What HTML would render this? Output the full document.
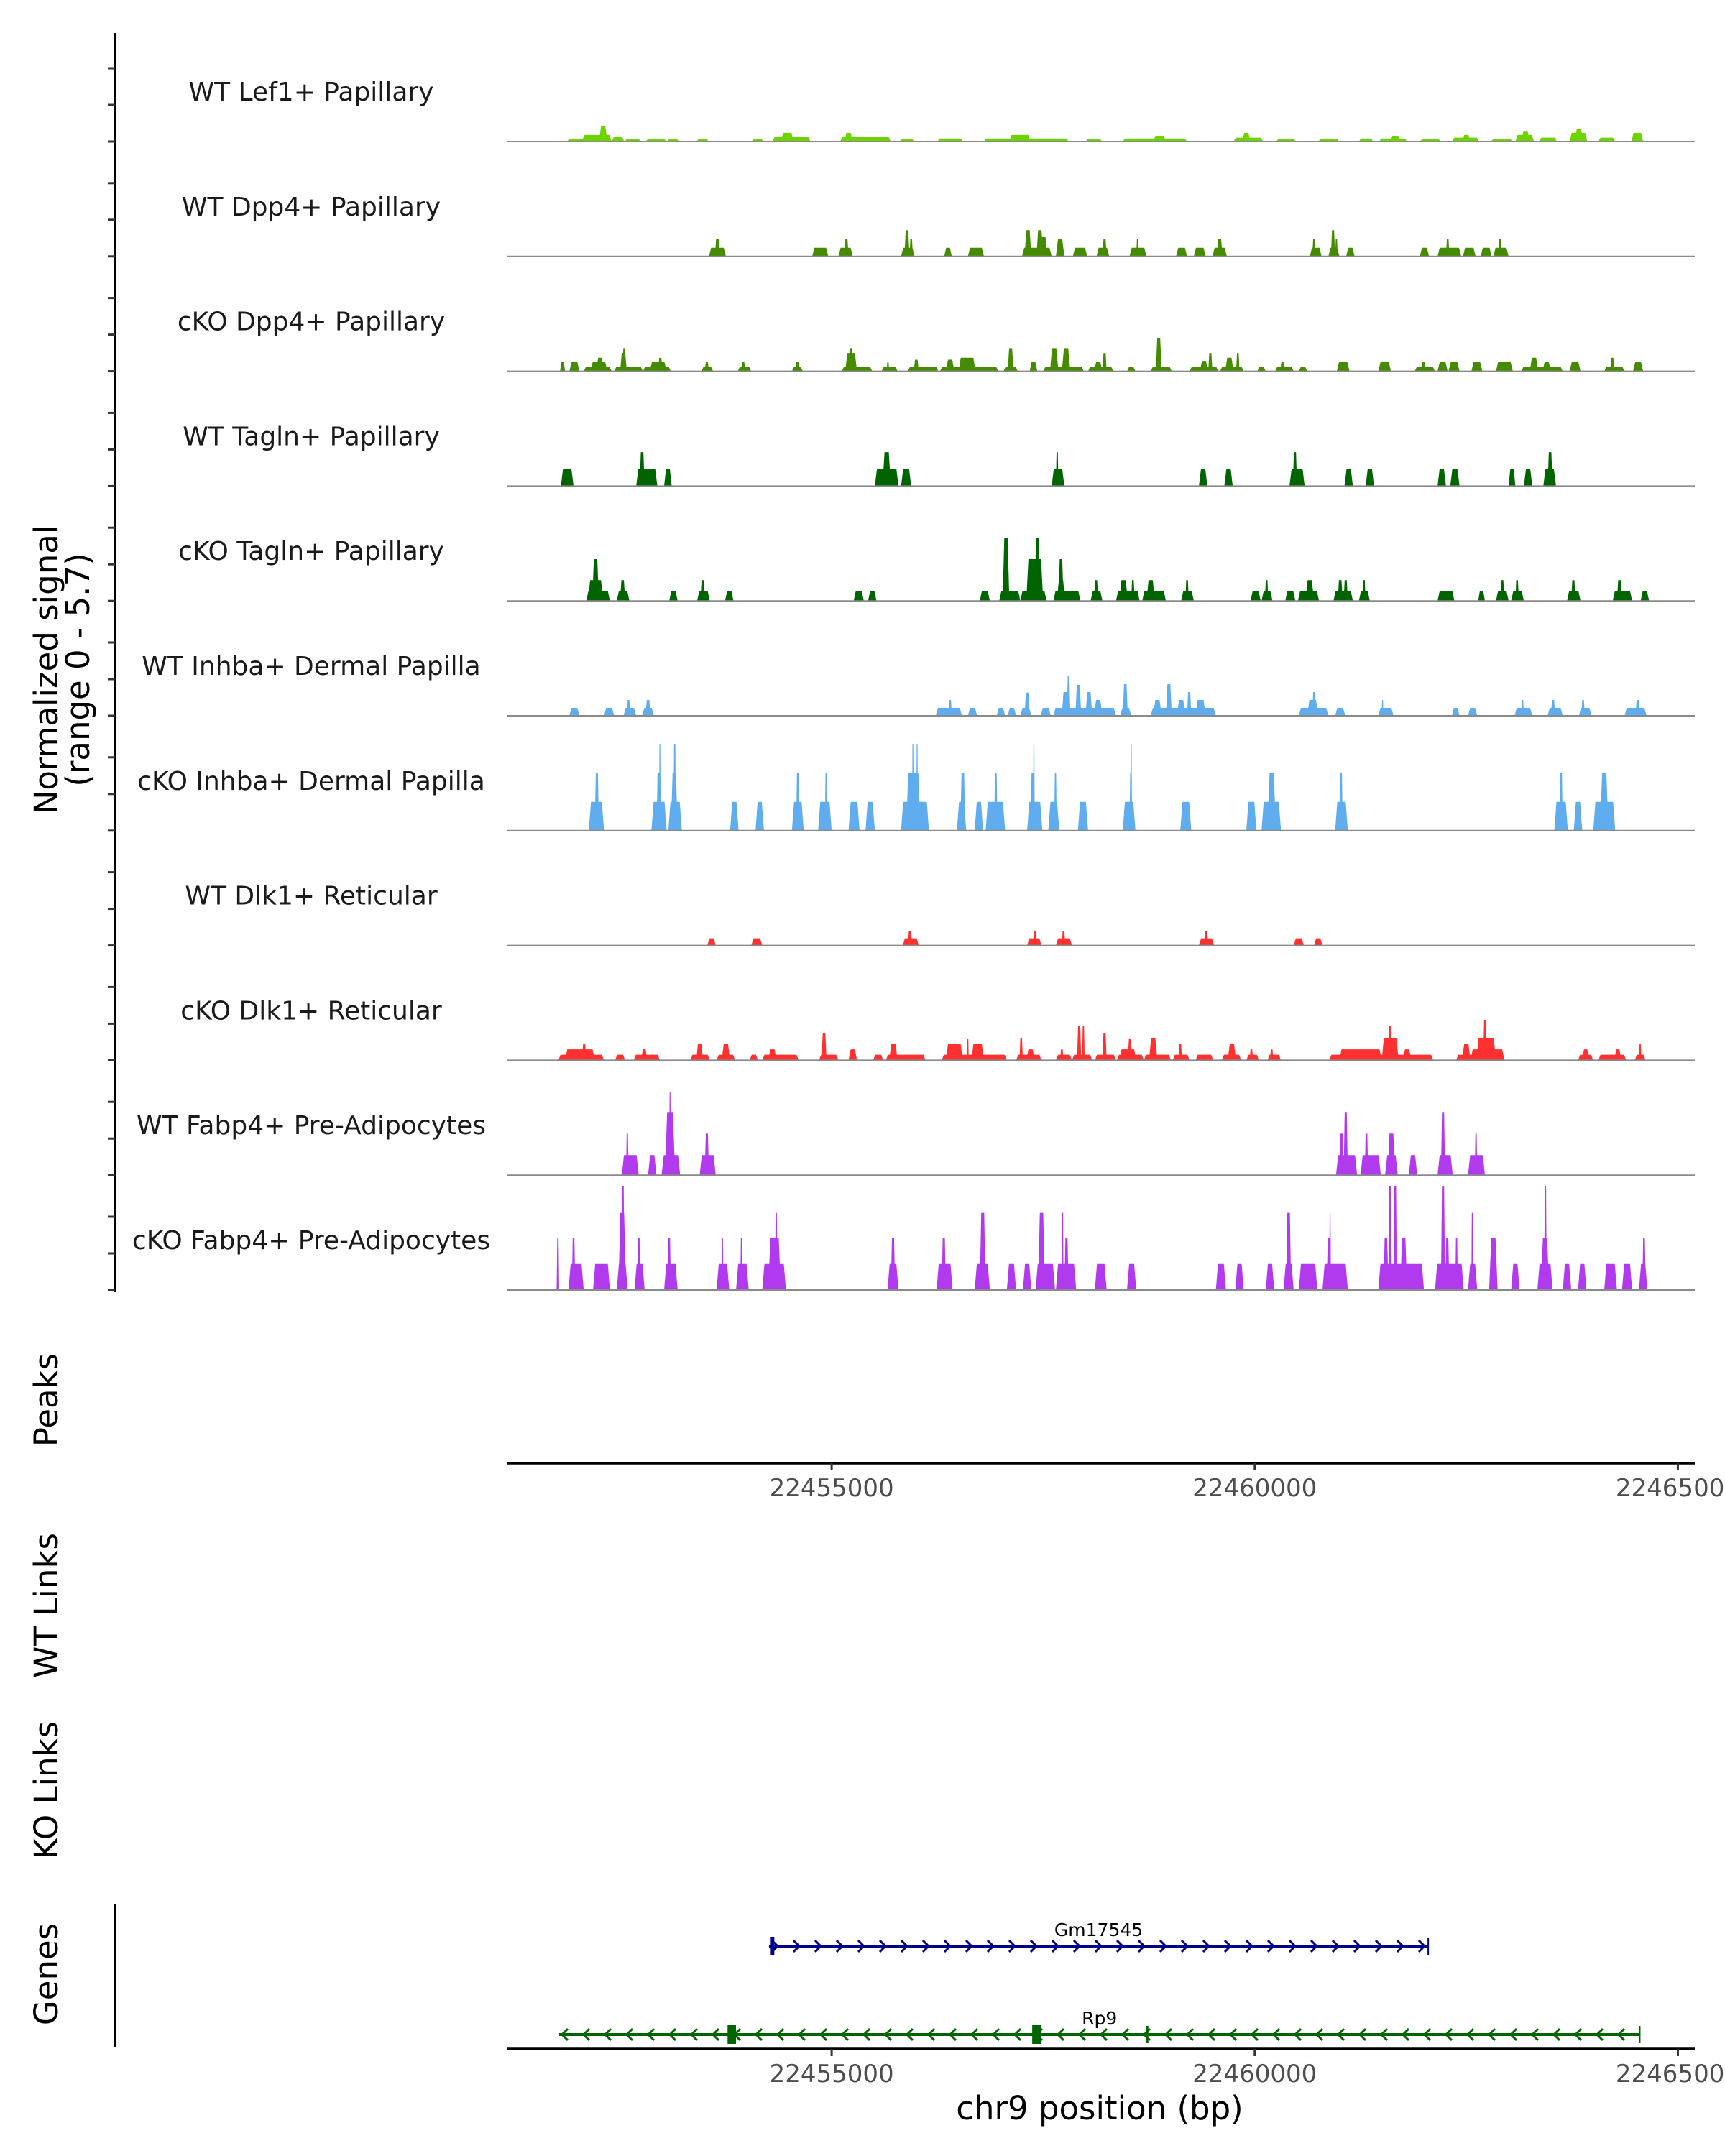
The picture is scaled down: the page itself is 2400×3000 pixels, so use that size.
<!DOCTYPE html>
<html><head><meta charset="utf-8"><style>
html,body{margin:0;padding:0;background:#fff;}
svg{display:block;font-family:"DejaVu Sans","Liberation Sans",sans-serif;}
</style></head><body>
<svg id="chart" width="2400" height="3000" viewBox="0 0 2400 3000" xmlns="http://www.w3.org/2000/svg">
<g id="tracks"></g>
<g id="axes"></g>
<g id="genes"></g>
<text transform="translate(80,932) rotate(-90)" text-anchor="middle" font-size="45" fill="#000">Normalized signal</text>
<text transform="translate(124,932) rotate(-90)" text-anchor="middle" font-size="45" fill="#000">(range 0 - 5.7)</text>
<text transform="translate(80,1948) rotate(-90)" text-anchor="middle" font-size="45" fill="#000">Peaks</text>
<text transform="translate(80,2234) rotate(-90)" text-anchor="middle" font-size="45" fill="#000">WT Links</text>
<text transform="translate(80,2491) rotate(-90)" text-anchor="middle" font-size="45" fill="#000">KO Links</text>
<text transform="translate(80,2747) rotate(-90)" text-anchor="middle" font-size="45" fill="#000">Genes</text>
<text x="1530" y="2949" text-anchor="middle" font-size="45" fill="#000">chr9 position (bp)</text>
</svg>
<script>
const chromStart = 22450000;
const xTicksKb = [5, 10, 15];
const xTickLabels = ["22455000", "22460000", "22465000"];
const trackNames = ["WT Lef1+ Papillary","WT Dpp4+ Papillary","cKO Dpp4+ Papillary","WT Tagln+ Papillary","cKO Tagln+ Papillary","WT Inhba+ Dermal Papilla","cKO Inhba+ Dermal Papilla","WT Dlk1+ Reticular","cKO Dlk1+ Reticular","WT Fabp4+ Pre-Adipocytes","cKO Fabp4+ Pre-Adipocytes"];
const trackColors = ["#6dd400","#458b00","#458b00","#006400","#006400","#5fadee","#5fadee","#ff3030","#ff3030","#b23aee","#b23aee"];
const lef1WT = [[1.87,2.15,0.11],[2.05,2.40,0.34],[2.25,2.35,0.8],[2.40,2.55,0.23],[2.55,2.75,0.11],[2.80,3.05,0.11],[3.05,3.20,0.11],[3.40,3.55,0.11],[4.05,4.20,0.11],[4.30,4.75,0.23],[4.40,4.55,0.45],[5.10,5.70,0.23],[5.15,5.25,0.45],[5.80,5.98,0.11],[6.25,6.55,0.16],[6.80,7.80,0.16],[7.10,7.35,0.34],[8.00,8.20,0.11],[8.44,9.20,0.16],[8.80,8.95,0.3],[9.75,10.10,0.2],[9.85,9.95,0.45],[10.25,10.49,0.11],[10.75,11.00,0.11],[11.23,11.40,0.16],[11.47,11.80,0.16],[11.60,11.72,0.3],[11.95,12.20,0.11],[12.33,12.65,0.2],[12.45,12.55,0.34],[12.79,13.05,0.11],[13.08,13.30,0.34],[13.15,13.25,0.55],[13.36,13.57,0.2],[13.72,13.93,0.45],[13.78,13.88,0.65],[14.06,14.26,0.2],[14.45,14.59,0.45]];
const dpp4WT = [[3.55,3.75,0.45],[3.62,3.68,0.9],[4.77,4.96,0.45],[5.08,5.25,0.45],[5.15,5.20,0.9],[5.82,5.98,0.45],[5.86,5.92,1.36],[5.92,5.96,0.9],[6.33,6.42,0.45],[6.61,6.80,0.45],[7.25,7.60,0.45],[7.28,7.36,1.36],[7.42,7.50,1.36],[7.46,7.55,1.0],[7.65,7.75,0.9],[7.85,8.02,0.45],[8.13,8.28,0.45],[8.20,8.25,0.9],[8.52,8.72,0.45],[8.60,8.63,0.9],[9.07,9.20,0.45],[9.28,9.42,0.45],[9.50,9.67,0.45],[9.55,9.62,0.9],[10.65,10.79,0.45],[10.68,10.72,0.9],[10.87,11.00,0.45],[10.90,10.95,1.36],[10.95,10.98,0.9],[11.08,11.18,0.45],[11.95,12.06,0.45],[12.16,12.44,0.45],[12.26,12.30,0.9],[12.46,12.61,0.45],[12.67,12.80,0.45],[12.82,13.00,0.45],[12.88,12.92,0.9]];
const dpp4KO = [[1.79,1.85,0.47],[1.90,2.02,0.47],[2.07,2.40,0.23],[2.15,2.35,0.47],[2.22,2.30,0.7],[2.43,2.77,0.23],[2.50,2.58,0.95],[2.53,2.56,1.2],[2.77,3.10,0.23],[2.85,3.05,0.47],[2.95,3.0,0.7],[3.46,3.60,0.23],[3.50,3.55,0.47],[3.89,4.05,0.23],[3.93,3.98,0.47],[4.53,4.66,0.23],[4.57,4.62,0.47],[5.12,5.48,0.23],[5.16,5.30,0.95],[5.20,5.25,1.2],[5.59,5.78,0.23],[5.65,5.68,0.47],[5.90,6.26,0.23],[5.97,6.03,0.6],[6.28,6.97,0.23],[6.35,6.45,0.6],[6.50,6.70,0.7],[7.03,7.20,0.23],[7.08,7.15,1.2],[7.34,7.43,0.47],[7.50,7.98,0.23],[7.58,7.68,1.2],[7.72,7.82,1.2],[8.03,8.33,0.23],[8.10,8.20,0.47],[8.20,8.25,0.95],[8.49,8.59,0.23],[8.77,9.02,0.23],[8.83,8.90,1.7],[9.23,9.57,0.23],[9.35,9.45,0.5],[9.45,9.50,0.95],[9.59,9.87,0.23],[9.65,9.75,0.7],[9.78,9.82,0.95],[10.03,10.13,0.23],[10.24,10.46,0.23],[10.30,10.36,0.47],[10.52,10.62,0.23],[10.97,11.12,0.47],[11.46,11.61,0.47],[11.89,12.13,0.23],[11.97,12.02,0.47],[12.16,12.28,0.47],[12.29,12.42,0.47],[12.56,12.69,0.47],[12.85,13.05,0.47],[13.15,13.64,0.23],[13.25,13.35,0.7],[13.40,13.50,0.47],[13.72,13.85,0.47],[14.13,14.37,0.23],[14.20,14.25,0.7],[14.47,14.59,0.47]];
const taglnWT = [[1.80,1.95,0.9],[2.69,2.94,0.9],[2.73,2.79,1.76],[3.02,3.11,0.9],[5.51,5.79,0.9],[5.60,5.70,1.76],[5.82,5.94,0.9],[7.60,7.75,0.9],[7.65,7.68,1.76],[9.34,9.44,0.9],[9.64,9.74,0.9],[10.41,10.59,0.9],[10.45,10.50,1.76],[11.06,11.16,0.9],[11.31,11.41,0.9],[12.16,12.26,0.9],[12.31,12.42,0.9],[13.00,13.08,0.9],[13.18,13.28,0.9],[13.41,13.56,0.9],[13.46,13.52,1.76]];
const taglnKO = [[2.10,2.38,0.52],[2.12,2.30,1.08],[2.17,2.25,2.17],[2.46,2.61,0.52],[2.50,2.56,1.08],[3.08,3.18,0.52],[3.41,3.56,0.52],[3.45,3.50,1.08],[3.74,3.84,0.52],[5.26,5.38,0.52],[5.43,5.53,0.52],[6.75,6.87,0.52],[6.98,7.23,0.52],[7.02,7.10,3.25],[7.23,7.54,0.52],[7.30,7.50,2.17],[7.40,7.46,3.25],[7.62,7.94,0.52],[7.66,7.76,1.08],[7.68,7.74,2.17],[8.06,8.20,0.52],[8.10,8.15,1.08],[8.36,8.64,0.52],[8.40,8.50,1.08],[8.54,8.58,1.08],[8.67,8.95,0.52],[8.72,8.82,1.08],[9.13,9.28,0.52],[9.18,9.22,1.08],[9.95,10.07,0.52],[10.08,10.21,0.52],[10.12,10.16,1.08],[10.36,10.48,0.52],[10.51,10.76,0.52],[10.60,10.70,1.08],[10.93,11.16,0.52],[10.98,11.04,1.08],[11.05,11.10,1.08],[11.23,11.36,0.52],[11.27,11.31,1.08],[12.16,12.36,0.52],[12.64,12.72,0.52],[12.85,13.00,0.52],[12.90,12.95,1.08],[13.03,13.18,0.52],[13.08,13.12,1.08],[13.69,13.85,0.52],[13.74,13.79,1.08],[14.23,14.46,0.52],[14.28,14.34,1.08],[14.56,14.66,0.52]];
const inhbaWT = [[1.90,2.02,0.41],[2.31,2.43,0.41],[2.54,2.69,0.41],[2.58,2.62,0.82],[2.76,2.90,0.41],[2.80,2.86,0.82],[6.23,6.54,0.41],[6.38,6.42,0.82],[6.61,6.72,0.41],[6.95,7.05,0.41],[7.08,7.18,0.41],[7.23,7.36,0.41],[7.28,7.34,1.2],[7.47,7.59,0.41],[7.62,8.36,0.41],[7.72,7.80,1.23],[7.78,7.82,2.05],[7.88,7.95,1.6],[8.00,8.08,1.23],[8.10,8.20,0.82],[8.41,8.54,0.41],[8.44,8.50,1.64],[8.77,9.54,0.41],[8.80,8.90,0.82],[8.95,9.02,1.64],[9.08,9.18,0.82],[9.20,9.25,1.23],[9.30,9.42,0.82],[10.52,10.87,0.41],[10.62,10.75,0.82],[10.68,10.72,1.23],[10.95,11.07,0.41],[11.46,11.64,0.41],[11.50,11.52,0.82],[12.33,12.42,0.41],[12.52,12.63,0.41],[13.07,13.28,0.41],[13.15,13.18,0.82],[13.46,13.64,0.41],[13.50,13.55,0.82],[13.83,13.98,0.41],[13.86,13.90,0.82],[14.37,14.63,0.41],[14.50,14.55,0.82]];
const inhbaKO = [[2.13,2.31,1.49],[2.20,2.25,2.98],[2.87,3.05,1.49],[2.93,2.98,2.98],[2.96,2.98,4.5],[3.07,3.23,1.49],[3.10,3.18,2.98],[3.13,3.16,4.5],[3.80,3.90,1.49],[4.10,4.20,1.49],[4.53,4.67,1.49],[4.58,4.62,2.98],[4.84,5.00,1.49],[4.92,4.95,2.98],[5.20,5.33,1.49],[5.40,5.51,1.49],[5.82,6.15,1.49],[5.88,6.05,2.98],[5.95,5.97,4.5],[6.00,6.02,4.5],[6.48,6.59,1.49],[6.52,6.58,2.98],[6.69,6.79,1.49],[6.82,7.05,1.49],[6.92,6.96,2.98],[7.31,7.49,1.49],[7.35,7.40,2.98],[7.38,7.40,4.5],[7.56,7.69,1.49],[7.63,7.66,2.98],[7.91,8.03,1.49],[8.44,8.59,1.49],[8.52,8.55,2.98],[8.53,8.55,4.5],[9.12,9.25,1.49],[9.90,10.02,1.49],[10.08,10.31,1.49],[10.15,10.25,2.98],[10.95,11.10,1.49],[11.00,11.04,2.98],[13.54,13.70,1.49],[13.60,13.64,2.98],[13.77,13.87,1.49],[14.00,14.26,1.49],[14.08,14.18,2.98]];
const dlk1WT = [[3.53,3.63,0.37],[4.05,4.18,0.37],[5.84,6.03,0.37],[5.90,5.95,0.75],[7.31,7.48,0.37],[7.38,7.42,0.75],[7.65,7.84,0.37],[7.72,7.76,0.75],[9.34,9.52,0.37],[9.40,9.45,0.75],[10.46,10.58,0.37],[10.70,10.80,0.37]];
const dlk1KO = [[1.77,2.31,0.29],[1.85,2.20,0.57],[2.05,2.10,0.86],[2.44,2.56,0.29],[2.66,2.97,0.29],[2.75,2.82,0.57],[3.33,3.56,0.29],[3.40,3.48,0.86],[3.64,3.86,0.29],[3.70,3.80,0.86],[4.03,4.13,0.29],[4.18,4.61,0.29],[4.25,4.35,0.57],[4.85,5.08,0.29],[4.88,4.94,1.43],[5.20,5.30,0.57],[5.49,5.61,0.29],[5.64,6.11,0.29],[5.68,5.78,0.86],[6.30,7.07,0.29],[6.35,6.55,0.86],[6.65,6.80,0.86],[6.60,6.62,1.1],[7.18,7.48,0.29],[7.22,7.26,1.15],[7.30,7.40,0.57],[7.65,7.84,0.29],[7.70,7.74,0.57],[7.84,8.08,0.29],[7.90,7.95,1.8],[7.96,7.99,1.8],[8.11,8.36,0.29],[8.20,8.25,1.43],[8.37,8.69,0.29],[8.40,8.60,0.57],[8.50,8.55,1.1],[8.69,9.01,0.29],[8.75,8.85,1.15],[9.03,9.23,0.29],[9.10,9.14,0.86],[9.30,9.51,0.29],[9.61,9.84,0.29],[9.68,9.78,0.86],[9.90,10.05,0.29],[9.94,9.98,0.57],[10.15,10.31,0.29],[10.18,10.22,0.57],[10.88,12.11,0.29],[11.0,11.5,0.57],[11.50,11.70,1.15],[11.58,11.62,1.8],[11.75,11.85,0.57],[12.38,12.95,0.29],[12.45,12.55,0.86],[12.55,12.95,0.57],[12.62,12.85,1.15],[12.70,12.74,2.1],[13.82,14.00,0.29],[13.87,13.95,0.57],[14.06,14.39,0.29],[14.25,14.33,0.57],[14.49,14.62,0.29],[14.54,14.57,0.86]];
const fabp4WT = [[2.52,2.72,1.04],[2.57,2.60,2.16],[2.83,2.93,1.04],[2.99,3.21,1.04],[3.03,3.15,3.24],[3.08,3.10,4.3],[3.44,3.63,1.04],[3.50,3.55,2.16],[10.96,11.21,1.04],[11.0,11.05,2.16],[11.05,11.10,3.24],[11.25,11.49,1.04],[11.30,11.34,2.16],[11.54,11.69,1.04],[11.57,11.66,2.16],[11.82,11.92,1.04],[12.16,12.34,1.04],[12.20,12.25,3.24],[12.52,12.72,1.04],[12.60,12.63,2.16]];
const fabp4KO = [[1.75,1.78,2.7],[1.89,2.07,1.35],[1.93,1.97,2.7],[2.18,2.38,1.35],[2.46,2.59,1.35],[2.48,2.57,4.0],[2.52,2.55,5.4],[2.67,2.79,1.35],[2.70,2.74,2.7],[3.02,3.18,1.35],[3.06,3.10,2.7],[3.64,3.79,1.35],[3.70,3.72,2.7],[3.87,4.02,1.35],[3.92,3.95,2.7],[4.18,4.46,1.35],[4.25,4.40,2.7],[4.33,4.36,4.0],[5.66,5.79,1.35],[5.70,5.75,2.7],[6.24,6.43,1.35],[6.30,6.35,2.7],[6.69,6.87,1.35],[6.75,6.82,4.0],[7.07,7.18,1.35],[7.26,7.36,1.35],[7.41,7.64,1.35],[7.44,7.52,4.0],[7.65,7.89,1.35],[7.72,7.74,4.0],[7.75,7.80,2.7],[8.11,8.25,1.35],[8.49,8.60,1.35],[9.54,9.66,1.35],[9.77,9.87,1.35],[10.13,10.23,1.35],[10.34,10.46,1.35],[10.37,10.43,4.0],[10.52,10.74,1.35],[10.80,11.10,1.35],[10.85,10.90,2.7],[10.88,10.90,4.0],[11.46,12.00,1.35],[11.52,11.58,2.7],[11.58,11.62,5.4],[11.64,11.68,5.4],[11.72,11.80,2.7],[12.13,12.47,1.35],[12.20,12.25,5.4],[12.25,12.30,2.7],[12.37,12.40,2.7],[12.52,12.63,1.35],[12.56,12.58,4.0],[12.77,12.87,2.7],[13.03,13.13,1.35],[13.34,13.52,1.35],[13.38,13.48,2.7],[13.42,13.45,5.4],[13.64,13.74,1.35],[13.82,13.92,1.35],[14.13,14.28,1.35],[14.34,14.46,1.35],[14.54,14.64,1.35],[14.58,14.62,2.7]];
const trackData = [lef1WT,dpp4WT,dpp4KO,taglnWT,taglnKO,inhbaWT,inhbaKO,dlk1WT,dlk1KO,fabp4WT,fabp4KO];
const yMax = 5.7;
const geneNames = ["Gm17545","Rp9"];
const geneStarts = [4.26, 1.78];
const geneEnds = [12.05, 14.55];
const geneStrands = [1, -1];
const geneColors = ["#00008b","#006400"];
const rp9Exons = [[3.77,3.87],[7.37,7.48]];
const gmExons = [[4.28,4.32]];

const NS="http://www.w3.org/2000/svg";
const X0=705, X1=2358, D0=1.16, D1=15.20;
function xs(kb){return X0+(kb-D0)/(D1-D0)*(X1-X0);}
const BASE0=197, STEP=159.8, TRACKH=153;
function ys(v,i){return BASE0+i*STEP - v/yMax*TRACKH;}
function mk(tag,attrs,parent){const e=document.createElementNS(NS,tag);for(const k in attrs)e.setAttribute(k,attrs[k]);parent.appendChild(e);return e;}
const gT=document.getElementById('tracks'), gA=document.getElementById('axes'), gG=document.getElementById('genes');

const yAxis=mk('line',{x1:160,x2:160,y1:46,y2:ys(0,trackData.length-1)+3,stroke:'#000','stroke-width':3.5},gA);



trackData.forEach((arr,i)=>{
  const g=mk('g',{},gT);
  
  
  arr.forEach(p=>{
    const s=xs(p[0]), e=xs(p[1]), t=Math.min((e-s)*0.25,3);
    const yb=ys(0,i), yt=ys(p[2],i);
    const poly=mk('polygon',{points:`${s},${yb} ${s+t},${yt} ${e-t},${yt} ${e},${yb}`,fill:trackColors[i]},g);
    
    
  });
  const bl=mk('line',{x1:X0,x2:X1,y1:ys(0,i),y2:ys(0,i),stroke:'#8a8a8a','stroke-width':2},g);
  
  
  const lb=mk('text',{x:433,y:ys(0,i)-57,'text-anchor':'middle','font-size':36,fill:'#1a1a1a'},g);
  lb.textContent=trackNames[i];
  
  
  [0,51,102].forEach(o=>{
    const tk=mk('line',{x1:150,x2:160,y1:ys(0,i)-o,y2:ys(0,i)-o,stroke:'#333','stroke-width':3},gA);
    
    
  });
});

[2036,2851].forEach((y,ai)=>{
  const ax=mk('line',{x1:X0,x2:X1,y1:y,y2:y,stroke:'#000','stroke-width':3.5},gA);
  
  
  xTicksKb.forEach((kb,j)=>{
    const tk=mk('line',{x1:xs(kb),x2:xs(kb),y1:y,y2:y+10,stroke:'#333','stroke-width':3},gA);
    
    
    const tl=mk('text',{x:xs(kb),y:y+46,'text-anchor':'middle','font-size':34,fill:'#4d4d4d'},gA);
    tl.textContent=xTickLabels[j];
    
    
  });
});
const gax=mk('line',{x1:160,x2:160,y1:2650,y2:2848,stroke:'#000','stroke-width':3.5},gA);



const geneY=[2708,2831];
geneNames.forEach((nm,i)=>{
  const g=mk('g',{},gG);
  
  
  const x1=xs(geneStarts[i]), x2=xs(geneEnds[i]), y=geneY[i], c=geneColors[i];
  mk('line',{x1:x1,x2:x2,y1:y,y2:y,stroke:c,'stroke-width':4},g);
  for(let x=x1+8;x<x2-4;x+=30){
    const d=geneStrands[i]>0?`M${x-4},${y-8} L${x+4},${y} L${x-4},${y+8}`:`M${x+4},${y-8} L${x-4},${y} L${x+4},${y+8}`;
    mk('path',{d:d,stroke:c,'stroke-width':3,fill:'none'},g);
  }
  const ex=i===0?gmExons:rp9Exons;
  ex.forEach(e=>{
    const r=mk('rect',{x:xs(e[0]),y:y-13,width:Math.max(xs(e[1])-xs(e[0]),5),height:26,fill:c},g);
    
    
  });
  mk('line',{x1:x2,x2:x2,y1:y-12,y2:y+12,stroke:c,'stroke-width':2},g);
  const t=mk('text',{x:(x1+x2)/2,y:y-14,'text-anchor':'middle','font-size':25,fill:'#000'},g);
  t.textContent=nm;
  
  
});
const tick=mk('line',{x1:xs(8.73),x2:xs(8.73),y1:2819,y2:2843,stroke:'#006400','stroke-width':3},gG);


</script>
</body></html>
